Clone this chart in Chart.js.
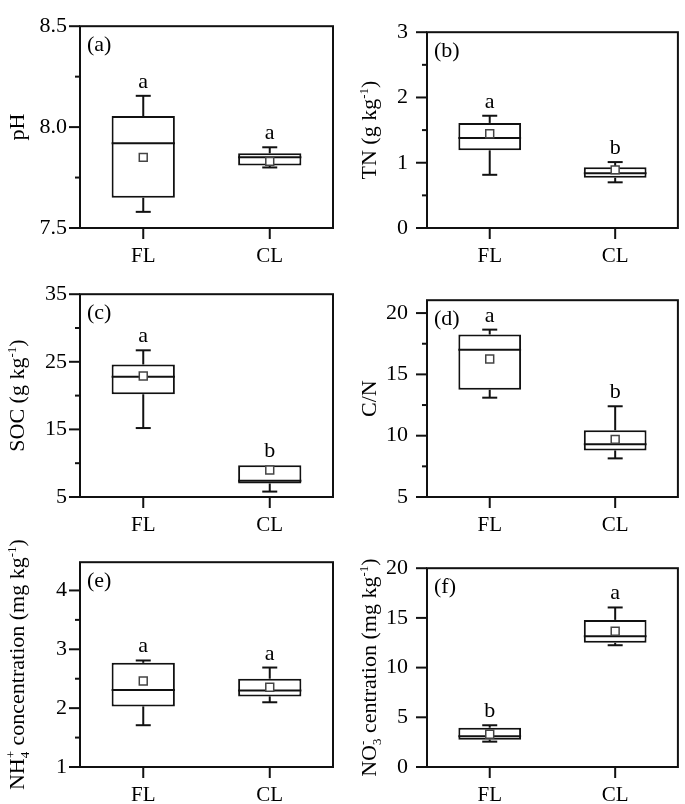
<!DOCTYPE html>
<html><head><meta charset="utf-8">
<script src="https://cdn.jsdelivr.net/npm/chart.js@4.4.1/dist/chart.umd.min.js"></script>
<style>
html,body{margin:0;padding:0;background:#fff;}
#wrap{position:relative;width:685px;height:804px;overflow:hidden;background:#fff;}
canvas{position:absolute;}
</style></head><body><div id="wrap"></div>
<script>
// ---------- data ----------
const categories = ['FL', 'CL'];
const panelTags = ['(a)', '(b)', '(c)', '(d)', '(e)', '(f)'];
const whiskerLow  = [[7.58, 7.80], [0.815, 0.70], [15.2, 5.8], [13.1, 8.15], [1.71, 2.10], [2.55, 12.25]];
const quart1      = [[7.65, 7.81], [1.19, 0.77], [20.2, 7.0], [13.75, 8.8], [2.03, 2.20], [2.75, 12.5]];
const medians     = [[7.92, 7.85], [1.38, 0.84], [22.8, 7.4], [17.0, 9.3], [2.31, 2.30], [3.1, 13.15]];
const quart3      = [[8.055, 7.87], [1.61, 0.93], [24.6, 9.7], [18.25, 10.45], [2.77, 2.50], [3.95, 14.8]];
const whiskerHigh = [[8.155, 7.90], [1.72, 1.01], [26.7, 9.7], [18.65, 12.4], [2.81, 2.69], [4.2, 16.05]];
const means       = [[7.85, 7.83], [1.445, 0.89], [22.9, 9.0], [16.25, 9.7], [2.46, 2.355], [3.3, 13.65]];
const sigLetters  = [['a', 'a'], ['a', 'b'], ['a', 'b'], ['a', 'b'], ['a', 'a'], ['b', 'a']];
const yMin        = [7.5, 0, 5, 5, 1, 0];
const yMax        = [8.5, 3, 35, 21.05, 4.48, 20];
const majorStep   = [0.5, 1, 10, 5, 1, 5];
const minorStep   = [0.25, 0.5, 5, 2.5, 0.5, 2.5];
const yTitles = [
  [['pH', 'n']],
  [['TN (g kg', 'n'], ['-1', 'sup'], [')', 'n']],
  [['SOC (g kg', 'n'], ['-1', 'sup'], [')', 'n']],
  [['C/N', 'n']],
  [['NH', 'n'], ['4', 'subsup', '+'], [' concentration (mg kg', 'n'], ['-1', 'sup'], [')', 'n']],
  [['NO', 'n'], ['3', 'subsup', '-'], [' centration (mg kg', 'n'], ['-1', 'sup'], [')', 'n']]
];

// ---------- layout / style ----------
const FONT = 'Liberation Serif, Times New Roman, serif';
const FS = 22, CFS = 21, SFS = 13;
const colX = [0, 342], colW = [342, 343], padRight = [9, 3], yAxisW = [80, 85], tickPad = [13, 19], titleOff = [56, 51];
const rowY = [0, 268, 536], rowH = [268, 268, 268], padTop = [10, 12, 13], xAxisH = [40, 39, 37];

function near(v) { return Math.abs(v - Math.round(v)) < 1e-6; }

const boxParts = {
  id: 'boxParts',
  afterDatasetDraw(chart, args, o) {
    if (args.index !== 0) return;
    const p = o.panel, ctx = chart.ctx, xs = chart.scales.x, ys = chart.scales.y;
    const bars = chart.getDatasetMeta(0).data;
    ctx.save();
    ctx.strokeStyle = '#111'; ctx.lineWidth = 2;
    const seg = (x1, y1, x2, y2) => { ctx.beginPath(); ctx.moveTo(x1, y1); ctx.lineTo(x2, y2); ctx.stroke(); };
    categories.forEach((c, i) => {
      const cx = xs.getPixelForValue(i), half = bars[i].width / 2, cap = 7.5;
      const yh = ys.getPixelForValue(whiskerHigh[p][i]), yl = ys.getPixelForValue(whiskerLow[p][i]);
      const y3 = ys.getPixelForValue(quart3[p][i]), y1 = ys.getPixelForValue(quart1[p][i]);
      const ym = ys.getPixelForValue(medians[p][i]);
      if (Math.abs(yh - y3) > 0.5) { seg(cx, y3, cx, yh); seg(cx - cap, yh, cx + cap, yh); }
      if (Math.abs(yl - y1) > 0.5) { seg(cx, y1, cx, yl); seg(cx - cap, yl, cx + cap, yl); }
      seg(cx - half, ym, cx + half, ym);
    });
    ctx.restore();
  },
  afterDraw(chart, args, o) {
    const p = o.panel, col = o.col, ctx = chart.ctx, xs = chart.scales.x, ys = chart.scales.y;
    const a = chart.chartArea;
    ctx.save();
    ctx.strokeStyle = '#111'; ctx.lineWidth = 2;
    ctx.strokeRect(a.left, a.top, a.right - a.left, a.bottom - a.top);
    const seg = (x1, y1, x2, y2) => { ctx.beginPath(); ctx.moveTo(x1, y1); ctx.lineTo(x2, y2); ctx.stroke(); };
    ys.ticks.forEach(t => {
      const k = (t.value - yMin[p]) / minorStep[p];
      if (!near(k)) return;
      const major = near((t.value - yMin[p]) / majorStep[p]);
      const py = ys.getPixelForValue(t.value);
      seg(a.left - (major ? 11 : 5), py, a.left, py);
    });
    categories.forEach((c, i) => {
      const cx = xs.getPixelForValue(i);
      seg(cx, a.bottom, cx, a.bottom + 11);
    });
    ctx.fillStyle = '#000';
    ctx.font = FS + 'px ' + FONT;
    ctx.textAlign = 'center'; ctx.textBaseline = 'alphabetic';
    categories.forEach((c, i) => {
      const cx = xs.getPixelForValue(i);
      ctx.fillText(sigLetters[p][i], cx, ys.getPixelForValue(whiskerHigh[p][i]) - 8);
    });
    ctx.textAlign = 'left';
    ctx.fillText(panelTags[p], a.left + 7, a.top + 25);
    // rotated y title with sub/superscripts
    const segs = yTitles[p];
    const widthOf = s => {
      if (s[1] === 'n') { ctx.font = FS + 'px ' + FONT; return ctx.measureText(s[0]).width; }
      ctx.font = SFS + 'px ' + FONT;
      let w = ctx.measureText(s[0]).width;
      if (s[1] === 'subsup') w = Math.max(w, ctx.measureText(s[2]).width);
      return w;
    };
    const total = segs.reduce((acc, s) => acc + widthOf(s), 0);
    ctx.translate(a.left - titleOff[col], (a.top + a.bottom) / 2);
    ctx.rotate(-Math.PI / 2);
    let x = -total / 2;
    segs.forEach(s => {
      const w = widthOf(s);
      if (s[1] === 'n') { ctx.font = FS + 'px ' + FONT; ctx.fillText(s[0], x, 0); }
      else if (s[1] === 'sup') { ctx.font = SFS + 'px ' + FONT; ctx.fillText(s[0], x, -8); }
      else { ctx.font = SFS + 'px ' + FONT; ctx.fillText(s[0], x, 5); ctx.fillText(s[2], x, -9); }
      x += w;
    });
    ctx.restore();
  }
};

const wrap = document.getElementById('wrap');
for (let p = 0; p < 6; p++) {
  const col = p % 2, row = Math.floor(p / 2);
  const cv = document.createElement('canvas');
  cv.width = colW[col]; cv.height = rowH[row];
  cv.style.left = colX[col] + 'px'; cv.style.top = rowY[row] + 'px';
  cv.style.width = colW[col] + 'px'; cv.style.height = rowH[row] + 'px';
  wrap.appendChild(cv);
  const boxes = categories.map((c, i) => [quart1[p][i], quart3[p][i]]);
  new Chart(cv, {
    type: 'bar',
    data: {
      labels: categories,
      datasets: [
        { type: 'bar', data: boxes, backgroundColor: '#fff', borderColor: '#111', borderWidth: 2,
          borderSkipped: false, barPercentage: 0.5, categoryPercentage: 1, order: 2 },
        { type: 'line', data: means[p], showLine: false, pointStyle: 'rect', pointRadius: 5.6,
          pointBackgroundColor: '#fff', pointBorderColor: '#444', pointBorderWidth: 1.5, order: 1 }
      ]
    },
    options: {
      responsive: false, animation: false, devicePixelRatio: 1,
      layout: { padding: { top: padTop[row], right: padRight[col], left: 0, bottom: 0 } },
      plugins: { legend: { display: false }, tooltip: { enabled: false }, boxParts: { panel: p, col: col } },
      scales: {
        x: {
          offset: true,
          grid: { display: false, drawTicks: false, offset: false },
          border: { display: false },
          ticks: { color: '#000', font: { family: FONT, size: CFS }, padding: 16, maxRotation: 0 },
          afterFit: s => { s.height = xAxisH[row]; }
        },
        y: {
          min: yMin[p], max: yMax[p],
          grid: { display: false, drawTicks: false },
          border: { display: false },
          ticks: {
            color: '#000', font: { family: FONT, size: FS }, padding: tickPad[col],
            callback: v => {
              const k = (v - yMin[p]) / majorStep[p];
              if (!near(k)) return '';
              return majorStep[p] < 1 ? Number(v).toFixed(1) : String(Math.round(v));
            }
          },
          afterBuildTicks: s => {
            const t = [];
            for (let k = 0; yMin[p] + k * minorStep[p] <= yMax[p] + 1e-9; k++) {
              t.push({ value: +(yMin[p] + k * minorStep[p]).toFixed(6) });
            }
            s.ticks = t;
          },
          afterFit: s => { s.width = yAxisW[col]; }
        }
      }
    },
    plugins: [boxParts]
  });
}
</script></body></html>
